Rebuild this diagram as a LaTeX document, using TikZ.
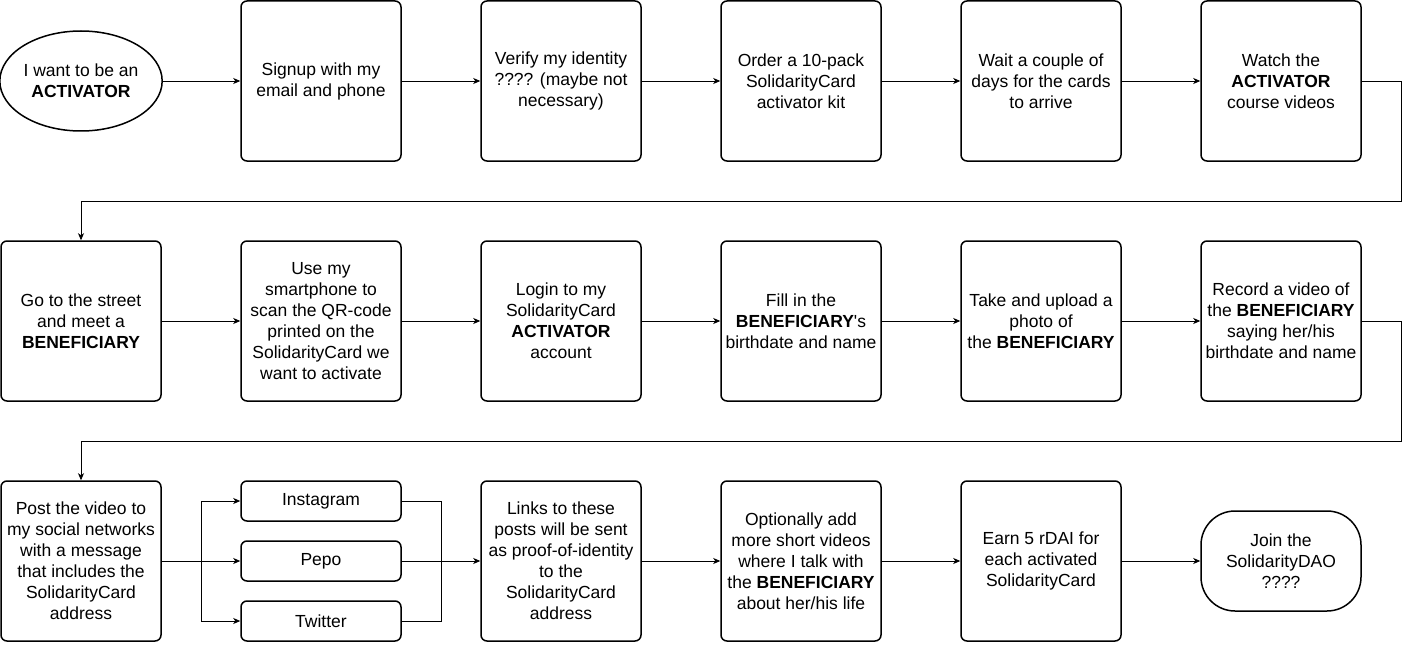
\documentclass[tikz,border=0pt]{standalone}
\usepackage{fontspec}
\setmainfont{Liberation Sans}[Ligatures=TeXOff]
\usetikzlibrary{arrows.meta, shapes.geometric}

\begin{document}
\begin{tikzpicture}[x=1pt, y=-1pt,
  >={Stealth[length=7pt, width=6pt, inset=2pt]},
  every node/.style={font=\fontsize{17.5}{21}\selectfont},
  stepbox/.style={align=center, draw, line width=1.5pt, rounded corners=6pt, inner sep=0pt, minimum width=160pt, minimum height=160pt},
  smallbox/.style={align=center, draw, line width=1.5pt, rounded corners=6pt, inner sep=0pt, minimum width=160pt, minimum height=40pt},
  link/.style={line width=0.9pt}]
\useasboundingbox (0, 0) rectangle (1410, 650);

\node[draw, ellipse, line width=1.5pt, align=center, inner sep=0pt, minimum width=160pt, minimum height=100pt] (1) at (81, 81) {I want to be an\\\textbf{ACTIVATOR}};
\node[stepbox] (2) at (321, 81) {Signup with my\\email and phone};
\node[stepbox] (3) at (561, 81) {Verify my identity\\???? (maybe not\\necessary)};
\node[stepbox] (4) at (801, 81) {Order a 10-pack\\SolidarityCard\\activator kit};
\node[stepbox] (5) at (1041, 81) {Wait a couple of\\days for the cards\\to arrive};
\node[stepbox] (6) at (1281, 81) {Watch the\\\textbf{ACTIVATOR}\\course videos};

\node[stepbox] (7) at (81, 321) {Go to the street\\and meet a\\\textbf{BENEFICIARY}};
\node[stepbox] (8) at (321, 321) {Use my\\smartphone to\\scan the QR-code\\printed on the\\SolidarityCard we\\want to activate};
\node[stepbox] (9) at (561, 321) {Login to my\\SolidarityCard\\\textbf{ACTIVATOR}\\account};
\node[stepbox] (10) at (801, 321) {Fill in the\\\textbf{BENEFICIARY}'s\\birthdate and name};
\node[stepbox] (11) at (1041, 321) {Take and upload a\\photo of\\the \textbf{BENEFICIARY}};
\node[stepbox] (12) at (1281, 321) {Record a video of\\the \textbf{BENEFICIARY}\\saying her/his\\birthdate and name};

\node[stepbox] (13) at (81, 561) {Post the video to\\my social networks\\with a message\\that includes the\\SolidarityCard\\address};
\node[smallbox] (13a) at (321, 501) {Instagram};
\node[smallbox] (13b) at (321, 561) {Pepo};
\node[smallbox] (13c) at (321, 621) {Twitter};
\node[stepbox] (14) at (561, 561) {Links to these\\posts will be sent\\as proof-of-identity\\to the\\SolidarityCard\\address};
\node[stepbox] (15) at (801, 561) {Optionally add\\more short videos\\where I talk with\\the \textbf{BENEFICIARY}\\about her/his life};
\node[stepbox] (16) at (1041, 561) {Earn 5 rDAI for\\each activated\\SolidarityCard};
\node[draw, line width=1.5pt, rounded corners=34pt, align=center, inner sep=0pt, minimum width=160pt, minimum height=100pt] (17) at (1281, 561) {Join the\\SolidarityDAO\\????};

\coordinate (r1) at (1401, 201);
\coordinate (r2) at (1401, 441);
\coordinate (fork) at (201, 561);
\coordinate (merge) at (441, 561);

\draw[->, link] (1.east) -- (2.west);
\draw[->, link] (2.east) -- (3.west);
\draw[->, link] (3.east) -- (4.west);
\draw[->, link] (4.east) -- (5.west);
\draw[->, link] (5.east) -- (6.west);
\draw[->, link] (6.east) -| (r1) -| (7.north);

\draw[->, link] (7.east) -- (8.west);
\draw[->, link] (8.east) -- (9.west);
\draw[->, link] (9.east) -- (10.west);
\draw[->, link] (10.east) -- (11.west);
\draw[->, link] (11.east) -- (12.west);
\draw[->, link] (12.east) -| (r2) -| (13.north);

\draw[->, link] (13.east) -- (13b.west);
\draw[->, link] (fork) |- (13a.west);
\draw[->, link] (fork) |- (13c.west);
\draw[link] (13a.east) -| (merge);
\draw[link] (13c.east) -| (merge);
\draw[->, link] (13b.east) -- (14.west);
\draw[->, link] (14.east) -- (15.west);
\draw[->, link] (15.east) -- (16.west);
\draw[->, link] (16.east) -- (17.west);

\end{tikzpicture}
\end{document}
